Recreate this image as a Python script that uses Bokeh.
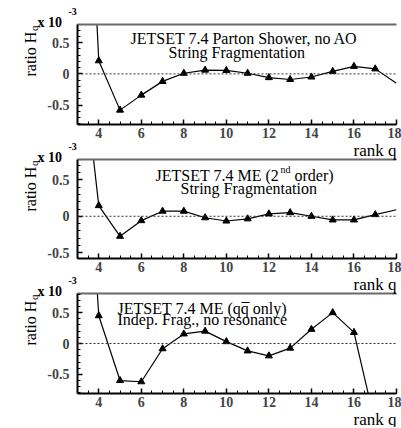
from math import pi
from bokeh.plotting import figure
from bokeh.layouts import column
from bokeh.models import Label, Span, FixedTicker, LinearAxis, Range1d
from bokeh.embed import file_html
from bokeh.resources import INLINE

# ---------------- data (units of 1e-3) ----------------
rank = [3, 4, 5, 6, 7, 8, 9, 10, 11, 12, 13, 14, 15, 16, 17, 18]
ps_vals = [7.1, 0.21, -0.58, -0.34, -0.12, 0.01, 0.06, 0.055, 0.01, -0.06, -0.09, -0.05, 0.04, 0.12, 0.08, -0.15]
me_vals = [2.73, 0.147, -0.275, -0.06, 0.07, 0.07, -0.02, -0.065, -0.035, 0.033, 0.05, 0.0, -0.05, -0.05, 0.023, 0.09]
qq_rank = [3, 4, 5, 6, 7, 8, 9, 10, 11, 12, 13, 14, 15, 16, 17]
qq_vals = [5.9, 0.45, -0.6, -0.62, -0.085, 0.155, 0.2, 0.03, -0.12, -0.2, -0.075, 0.23, 0.5, 0.18, -1.3]
marker_rank = [4, 5, 6, 7, 8, 9, 10, 11, 12, 13, 14, 15, 16, 17]

x_major = [4, 6, 8, 10, 12, 14, 16, 18]
y_major = [-0.5, 0, 0.5]
y_labels = {-0.5: "-0.5", 0: "0", 0.5: "0.5"}

titles = [
    ["JETSET 7.4 Parton Shower, no AO", "String Fragmentation"],
    ["JETSET 7.4 ME (2", "nd", " order)", "String Fragmentation"],
    ["JETSET 7.4 ME (qq only)", "\u00af", "Indep. Frag., no resonance"],
]
x_label = "rank q"
y_label = "ratio H"
y_sub = "q"
y_scale = ["x 10", "-3"]

SERIF = "Liberation Serif"
W = 401


def make_panel(height, bt, bb, ylo, yhi):
    p = figure(width=W, height=height, x_range=Range1d(3, 18), y_range=Range1d(ylo, yhi),
               output_backend="svg", toolbar_location=None,
               min_border_left=77, min_border_right=5, min_border_top=bt, min_border_bottom=bb)
    p.grid.visible = False
    p.outline_line_color = None
    p.background_fill_color = "white"
    p.border_fill_color = "white"
    xa = p.xaxis[0]
    xa.ticker = FixedTicker(ticks=x_major, minor_ticks=[3 + 0.5 * i for i in range(31)])
    ya = p.yaxis[0]
    ya.ticker = FixedTicker(ticks=y_major, minor_ticks=[round(-0.9 + 0.1 * i, 2) for i in range(19)])
    ya.major_label_overrides = y_labels
    for ax in (xa, ya):
        ax.major_tick_in = 5
        ax.major_tick_out = 0
        ax.minor_tick_in = 3
        ax.minor_tick_out = 0
        ax.axis_line_width = 2
        ax.major_tick_line_width = 1.5
        ax.major_label_text_font = SERIF
        ax.major_label_text_font_style = "bold"
        ax.major_label_text_font_size = "14px"
    xa.major_label_standoff = 3
    ya.major_label_standoff = 8
    top = LinearAxis(ticker=FixedTicker(ticks=[]), major_label_text_font_size="0px",
                     axis_line_color="#6a6a6a", axis_line_width=2,
                     major_tick_line_color=None, minor_tick_line_color=None)
    p.add_layout(top, "above")
    p.add_layout(Span(location=0, dimension="width", line_color="#333333",
                      line_dash="2 2", line_width=1))
    return p


# panel 1: page y 0..142, frame 24..124
p1 = make_panel(142, 24, 18, -0.81, 0.79)
p1.line(rank, ps_vals, line_color="black", line_width=1.2)
p1.scatter(marker_rank, ps_vals[1:15], marker="triangle", size=7, color="black")

# panel 2: page y 142..277, frame 159..258
p2 = make_panel(135, 17, 19, -0.58, 0.78)
p2.line(rank, me_vals, line_color="black", line_width=1.2)
p2.scatter(marker_rank, me_vals[1:15], marker="triangle", size=7, color="black")

# panel 3: page y 277..427, frame 293..393
p3 = make_panel(150, 16, 34, -0.81, 0.81)
p3.line(qq_rank, qq_vals, line_color="black", line_width=1.2)
p3.scatter(marker_rank[:13], qq_vals[1:14], marker="triangle", size=7, color="black")

# transparent overlay carrying the texts (page pixel coordinates)
H = 427
ov = figure(width=W, height=H, x_range=Range1d(0, W), y_range=Range1d(H, 0),
            x_axis_type=None, y_axis_type=None, output_backend="svg", toolbar_location=None,
            min_border=0, min_border_left=0, min_border_right=0,
            min_border_top=0, min_border_bottom=0, outline_line_color=None,
            background_fill_color=None, border_fill_color=None)
ov.frame_align = False
ov.grid.visible = False
ov.margin = (-H, 0, 0, 0)


def lab(px, py, text, size, style="normal", align="left", angle=0.0):
    ov.add_layout(Label(x=px, y=py, text=text, text_font=SERIF, text_font_size=size,
                        text_font_style=style, text_align=align, text_baseline="alphabetic",
                        angle=angle, text_color="black"))


for dy in (0, 135, 269):
    lab(37, 21.5 + dy, y_scale[0], "14px", "bold")
    lab(68, 10.5 + dy, y_scale[1], "10px", "bold")
    lab(30, 76 + dy, y_label, "16px", angle=pi / 2)
    lab(33.5, 30.5 + dy, y_sub, "11px", angle=pi / 2)

for by in (150, 284, 418.5):
    lab(396, by, x_label, "17px", align="right")

lab(130, 38.3, titles[0][0], "16px")
lab(168, 51.7, titles[0][1], "16px")
lab(155, 175, titles[1][0], "16px")
lab(280, 169, titles[1][1], "10px")
lab(294, 175, titles[1][2], "16px")
lab(180, 188.3, titles[1][3], "16px")
lab(117, 308, titles[2][0], "16px")
lab(241, 309, titles[2][1], "16px")
lab(117, 318.7, titles[2][2], "16px")

layout = column(p1, p2, p3, ov, spacing=0)
open("out.html", "w").write(file_html(layout, INLINE))
